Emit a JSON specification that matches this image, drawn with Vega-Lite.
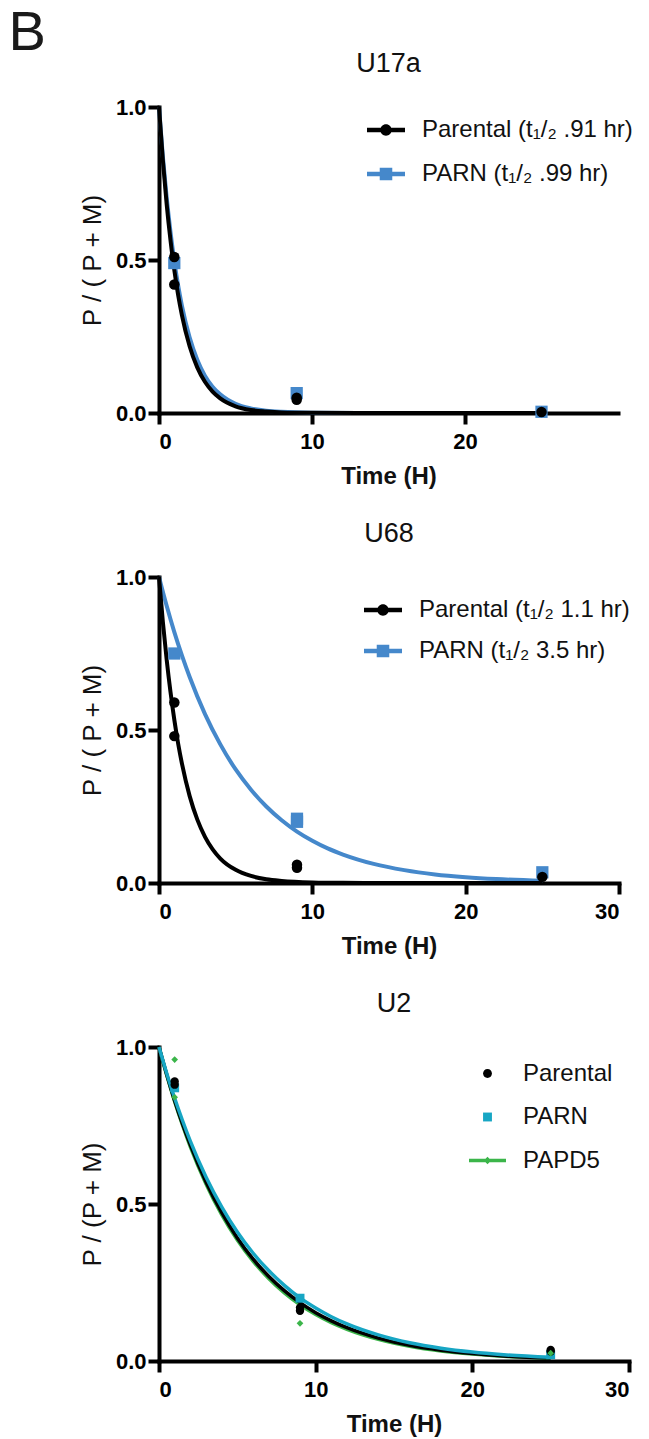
{
  "$schema": "https://vega.github.io/schema/vega-lite/v6.json",
  "padding": {"left": 8, "top": 5, "right": 5, "bottom": 5},
  "background": "white",
  "title": {"text": "B", "anchor": "start", "frame": "bounds", "fontSize": 56, "fontWeight": "normal", "font": "Liberation Sans", "color": "#1a1a1a", "offset": -12, "dx": -71},
  "spacing": 32,
  "resolve": {
    "scale": {"x": "independent", "y": "independent", "color": "independent"},
    "axis": {"x": "independent", "y": "independent"},
    "legend": {"color": "independent"}
  },
  "datasets": {
    "u17a_fit": [
      {"series": "Parental", "t": 0, "y": 1}, {"series": "Parental", "t": 0.25, "y": 0.827}, {"series": "Parental", "t": 0.5, "y": 0.683}, {"series": "Parental", "t": 0.75, "y": 0.565}, {"series": "Parental", "t": 1, "y": 0.467}, {"series": "Parental", "t": 1.25, "y": 0.386}, {"series": "Parental", "t": 1.5, "y": 0.319}, {"series": "Parental", "t": 2, "y": 0.218}, {"series": "Parental", "t": 2.5, "y": 0.149}, {"series": "Parental", "t": 3, "y": 0.102}, {"series": "Parental", "t": 3.5, "y": 0.07}, {"series": "Parental", "t": 4, "y": 0.048}, {"series": "Parental", "t": 5, "y": 0.022}, {"series": "Parental", "t": 6, "y": 0.01}, {"series": "Parental", "t": 7, "y": 0.005}, {"series": "Parental", "t": 8, "y": 0.002}, {"series": "Parental", "t": 10, "y": 0.0005}, {"series": "Parental", "t": 13, "y": 0}, {"series": "Parental", "t": 17, "y": 0}, {"series": "Parental", "t": 21, "y": 0}, {"series": "Parental", "t": 25, "y": 0},
      {"series": "PARN", "t": 0, "y": 1}, {"series": "PARN", "t": 0.25, "y": 0.839}, {"series": "PARN", "t": 0.5, "y": 0.705}, {"series": "PARN", "t": 0.75, "y": 0.592}, {"series": "PARN", "t": 1, "y": 0.497}, {"series": "PARN", "t": 1.25, "y": 0.417}, {"series": "PARN", "t": 1.5, "y": 0.35}, {"series": "PARN", "t": 2, "y": 0.247}, {"series": "PARN", "t": 2.5, "y": 0.174}, {"series": "PARN", "t": 3, "y": 0.122}, {"series": "PARN", "t": 3.5, "y": 0.086}, {"series": "PARN", "t": 4, "y": 0.061}, {"series": "PARN", "t": 5, "y": 0.03}, {"series": "PARN", "t": 6, "y": 0.015}, {"series": "PARN", "t": 7, "y": 0.0074}, {"series": "PARN", "t": 8, "y": 0.0037}, {"series": "PARN", "t": 10, "y": 0.0009}, {"series": "PARN", "t": 13, "y": 0.0001}, {"series": "PARN", "t": 17, "y": 0}, {"series": "PARN", "t": 21, "y": 0}, {"series": "PARN", "t": 25, "y": 0}
    ],
    "u17a_pts": [
      {"series": "PARN", "t": 1, "y": 0.49}, {"series": "PARN", "t": 9, "y": 0.065}, {"series": "PARN", "t": 25, "y": 0.004},
      {"series": "Parental", "t": 1, "y": 0.51}, {"series": "Parental", "t": 1, "y": 0.42}, {"series": "Parental", "t": 9, "y": 0.05}, {"series": "Parental", "t": 9, "y": 0.043}, {"series": "Parental", "t": 25, "y": 0.003}
    ],
    "u68_fit": [
      {"series": "Parental", "t": 0, "y": 1}, {"series": "Parental", "t": 0.25, "y": 0.854}, {"series": "Parental", "t": 0.5, "y": 0.73}, {"series": "Parental", "t": 0.75, "y": 0.624}, {"series": "Parental", "t": 1, "y": 0.533}, {"series": "Parental", "t": 1.25, "y": 0.455}, {"series": "Parental", "t": 1.5, "y": 0.389}, {"series": "Parental", "t": 2, "y": 0.284}, {"series": "Parental", "t": 2.5, "y": 0.207}, {"series": "Parental", "t": 3, "y": 0.151}, {"series": "Parental", "t": 3.5, "y": 0.11}, {"series": "Parental", "t": 4, "y": 0.08}, {"series": "Parental", "t": 5, "y": 0.043}, {"series": "Parental", "t": 6, "y": 0.023}, {"series": "Parental", "t": 7, "y": 0.012}, {"series": "Parental", "t": 8, "y": 0.0065}, {"series": "Parental", "t": 10, "y": 0.0018}, {"series": "Parental", "t": 12, "y": 0.0005}, {"series": "Parental", "t": 15, "y": 0.0001}, {"series": "Parental", "t": 20, "y": 0}, {"series": "Parental", "t": 25, "y": 0},
      {"series": "PARN", "t": 0, "y": 1}, {"series": "PARN", "t": 0.5, "y": 0.906}, {"series": "PARN", "t": 1, "y": 0.82}, {"series": "PARN", "t": 1.5, "y": 0.743}, {"series": "PARN", "t": 2, "y": 0.673}, {"series": "PARN", "t": 3, "y": 0.552}, {"series": "PARN", "t": 4, "y": 0.453}, {"series": "PARN", "t": 5, "y": 0.371}, {"series": "PARN", "t": 6, "y": 0.305}, {"series": "PARN", "t": 7, "y": 0.25}, {"series": "PARN", "t": 8, "y": 0.205}, {"series": "PARN", "t": 9, "y": 0.168}, {"series": "PARN", "t": 10, "y": 0.138}, {"series": "PARN", "t": 11, "y": 0.113}, {"series": "PARN", "t": 12, "y": 0.093}, {"series": "PARN", "t": 14, "y": 0.0625}, {"series": "PARN", "t": 16, "y": 0.042}, {"series": "PARN", "t": 18, "y": 0.028}, {"series": "PARN", "t": 20, "y": 0.019}, {"series": "PARN", "t": 22, "y": 0.0128}, {"series": "PARN", "t": 25, "y": 0.0071}
    ],
    "u68_pts": [
      {"series": "PARN", "t": 1, "y": 0.75}, {"series": "PARN", "t": 9, "y": 0.21}, {"series": "PARN", "t": 9, "y": 0.2}, {"series": "PARN", "t": 25, "y": 0.035},
      {"series": "Parental", "t": 1, "y": 0.59}, {"series": "Parental", "t": 1, "y": 0.48}, {"series": "Parental", "t": 9, "y": 0.06}, {"series": "Parental", "t": 9, "y": 0.05}, {"series": "Parental", "t": 25, "y": 0.02}
    ],
    "u2_fit": [
      {"series": "PAPD5", "t": 0, "y": 1}, {"series": "PAPD5", "t": 0.5, "y": 0.909}, {"series": "PAPD5", "t": 1, "y": 0.826}, {"series": "PAPD5", "t": 1.5, "y": 0.751}, {"series": "PAPD5", "t": 2, "y": 0.682}, {"series": "PAPD5", "t": 3, "y": 0.564}, {"series": "PAPD5", "t": 4, "y": 0.466}, {"series": "PAPD5", "t": 5, "y": 0.385}, {"series": "PAPD5", "t": 6, "y": 0.318}, {"series": "PAPD5", "t": 7, "y": 0.263}, {"series": "PAPD5", "t": 8, "y": 0.217}, {"series": "PAPD5", "t": 9, "y": 0.179}, {"series": "PAPD5", "t": 10, "y": 0.148}, {"series": "PAPD5", "t": 11, "y": 0.122}, {"series": "PAPD5", "t": 12, "y": 0.101}, {"series": "PAPD5", "t": 14, "y": 0.069}, {"series": "PAPD5", "t": 16, "y": 0.047}, {"series": "PAPD5", "t": 18, "y": 0.032}, {"series": "PAPD5", "t": 20, "y": 0.022}, {"series": "PAPD5", "t": 22, "y": 0.015}, {"series": "PAPD5", "t": 25, "y": 0.0084},
      {"series": "Parental", "t": 0, "y": 1}, {"series": "Parental", "t": 0.5, "y": 0.911}, {"series": "Parental", "t": 1, "y": 0.829}, {"series": "Parental", "t": 1.5, "y": 0.755}, {"series": "Parental", "t": 2, "y": 0.688}, {"series": "Parental", "t": 3, "y": 0.57}, {"series": "Parental", "t": 4, "y": 0.473}, {"series": "Parental", "t": 5, "y": 0.392}, {"series": "Parental", "t": 6, "y": 0.325}, {"series": "Parental", "t": 7, "y": 0.27}, {"series": "Parental", "t": 8, "y": 0.224}, {"series": "Parental", "t": 9, "y": 0.186}, {"series": "Parental", "t": 10, "y": 0.154}, {"series": "Parental", "t": 11, "y": 0.128}, {"series": "Parental", "t": 12, "y": 0.106}, {"series": "Parental", "t": 14, "y": 0.073}, {"series": "Parental", "t": 16, "y": 0.05}, {"series": "Parental", "t": 18, "y": 0.0345}, {"series": "Parental", "t": 20, "y": 0.0237}, {"series": "Parental", "t": 22, "y": 0.0163}, {"series": "Parental", "t": 25, "y": 0.0093},
      {"series": "PARN", "t": 0, "y": 1}, {"series": "PARN", "t": 0.5, "y": 0.915}, {"series": "PARN", "t": 1, "y": 0.837}, {"series": "PARN", "t": 1.5, "y": 0.766}, {"series": "PARN", "t": 2, "y": 0.7}, {"series": "PARN", "t": 3, "y": 0.586}, {"series": "PARN", "t": 4, "y": 0.491}, {"series": "PARN", "t": 5, "y": 0.411}, {"series": "PARN", "t": 6, "y": 0.344}, {"series": "PARN", "t": 7, "y": 0.288}, {"series": "PARN", "t": 8, "y": 0.241}, {"series": "PARN", "t": 9, "y": 0.201}, {"series": "PARN", "t": 10, "y": 0.169}, {"series": "PARN", "t": 11, "y": 0.141}, {"series": "PARN", "t": 12, "y": 0.118}, {"series": "PARN", "t": 14, "y": 0.083}, {"series": "PARN", "t": 16, "y": 0.058}, {"series": "PARN", "t": 18, "y": 0.0406}, {"series": "PARN", "t": 20, "y": 0.0284}, {"series": "PARN", "t": 22, "y": 0.0199}, {"series": "PARN", "t": 25, "y": 0.0117}
    ],
    "u2_pts": [
      {"series": "PARN", "t": 1, "y": 0.87}, {"series": "PARN", "t": 9, "y": 0.2}, {"series": "PARN", "t": 25, "y": 0.02},
      {"series": "Parental", "t": 1, "y": 0.89}, {"series": "Parental", "t": 1, "y": 0.88}, {"series": "Parental", "t": 9, "y": 0.17}, {"series": "Parental", "t": 9, "y": 0.16}, {"series": "Parental", "t": 25, "y": 0.035}, {"series": "Parental", "t": 25, "y": 0.03},
      {"series": "PAPD5", "t": 1, "y": 0.96}, {"series": "PAPD5", "t": 1, "y": 0.84}, {"series": "PAPD5", "t": 9, "y": 0.12}, {"series": "PAPD5", "t": 25, "y": 0.025}
    ]
  },
  "vconcat": [
    {
      "title": {"text": "U17a", "offset": 18},
      "width": 459,
      "height": 306,
      "layer": [
        {
          "data": {"name": "u17a_fit"},
          "transform": [{"filter": "datum.series == 'PARN'"}],
          "mark": {"type": "line", "strokeWidth": 4, "interpolate": "monotone"},
          "encoding": {
            "x": {"field": "t", "type": "quantitative", "scale": {"domain": [0, 30], "nice": false}, "axis": {"values": [0, 10, 20], "title": "Time (H)"}},
            "y": {"field": "y", "type": "quantitative", "scale": {"domain": [0, 1], "nice": false}, "axis": {"values": [0, 0.5, 1], "format": ".1f", "title": "P / ( P + M)"}},
            "color": {
              "field": "series", "type": "nominal",
              "scale": {"domain": ["Parental", "PARN"], "range": ["#000000", "#4588CB"]},
              "legend": {
                "title": null, "orient": "none", "legendX": 208, "legendY": 4, "padding": 0,
                "labelFontSize": 24, "labelFont": "Liberation Sans", "labelColor": "#111", "labelOffset": 17, "rowPadding": 13, "symbolSize": 1444, "symbolStrokeWidth": 0, "labelLimit": 400,
                "labelExpr": "datum.value == 'Parental' ? 'Parental (t₁/₂ .91 hr)' : 'PARN (t₁/₂ .99 hr)'",
                "encode": {"symbols": {"update": {
                  "shape": {"signal": "datum.value == 'Parental' ? 'M-1,-0.115H1V0.115H-1Z M0.3,0A0.3,0.3,0,1,1,-0.3,0A0.3,0.3,0,1,1,0.3,0Z' : 'M-1,-0.115H1V0.115H-1Z M-0.33,-0.33H0.33V0.33H-0.33Z'"},
                  "fill": {"signal": "datum.value == 'Parental' ? '#000000' : '#4588CB'"},
                  "stroke": {"value": "transparent"}, "strokeWidth": {"value": 0}, "opacity": {"value": 1}, "size": {"value": 1444}
                }}}
              }
            }
          }
        },
        {
          "data": {"name": "u17a_fit"},
          "transform": [{"filter": "datum.series == 'Parental'"}],
          "mark": {"type": "line", "strokeWidth": 4, "interpolate": "monotone"},
          "encoding": {
            "x": {"field": "t", "type": "quantitative"},
            "y": {"field": "y", "type": "quantitative"},
            "color": {"field": "series", "type": "nominal", "legend": null}
          }
        },
        {
          "data": {"name": "u17a_pts"},
          "transform": [{"filter": "datum.series == 'PARN'"}],
          "mark": {"type": "point", "filled": true, "opacity": 1, "shape": "square", "size": 150},
          "encoding": {
            "x": {"field": "t", "type": "quantitative"},
            "y": {"field": "y", "type": "quantitative"},
            "color": {"field": "series", "type": "nominal", "legend": null}
          }
        },
        {
          "data": {"name": "u17a_pts"},
          "transform": [{"filter": "datum.series == 'Parental'"}],
          "mark": {"type": "point", "filled": true, "opacity": 1, "shape": "circle", "size": 110},
          "encoding": {
            "x": {"field": "t", "type": "quantitative"},
            "y": {"field": "y", "type": "quantitative"},
            "color": {"field": "series", "type": "nominal", "legend": null}
          }
        }
      ]
    },
    {
      "title": {"text": "U68", "offset": 18},
      "width": 460,
      "height": 306,
      "layer": [
        {
          "data": {"name": "u68_fit"},
          "transform": [{"filter": "datum.series == 'PARN'"}],
          "mark": {"type": "line", "strokeWidth": 4, "interpolate": "monotone"},
          "encoding": {
            "x": {"field": "t", "type": "quantitative", "scale": {"domain": [0, 30], "nice": false}, "axis": {"values": [0, 10, 20, 30], "title": "Time (H)"}},
            "y": {"field": "y", "type": "quantitative", "scale": {"domain": [0, 1], "nice": false}, "axis": {"values": [0, 0.5, 1], "format": ".1f", "title": "P / ( P + M)"}},
            "color": {
              "field": "series", "type": "nominal",
              "scale": {"domain": ["Parental", "PARN"], "range": ["#000000", "#4588CB"]},
              "legend": {
                "title": null, "orient": "none", "legendX": 205, "legendY": 14, "padding": 0,
                "labelFontSize": 24, "labelFont": "Liberation Sans", "labelColor": "#111", "labelOffset": 17, "rowPadding": 10, "symbolSize": 1444, "symbolStrokeWidth": 0, "labelLimit": 400,
                "labelExpr": "datum.value == 'Parental' ? 'Parental (t₁/₂ 1.1 hr)' : 'PARN (t₁/₂ 3.5 hr)'",
                "encode": {"symbols": {"update": {
                  "shape": {"signal": "datum.value == 'Parental' ? 'M-1,-0.115H1V0.115H-1Z M0.3,0A0.3,0.3,0,1,1,-0.3,0A0.3,0.3,0,1,1,0.3,0Z' : 'M-1,-0.115H1V0.115H-1Z M-0.33,-0.33H0.33V0.33H-0.33Z'"},
                  "fill": {"signal": "datum.value == 'Parental' ? '#000000' : '#4588CB'"},
                  "stroke": {"value": "transparent"}, "strokeWidth": {"value": 0}, "opacity": {"value": 1}, "size": {"value": 1444}
                }}}
              }
            }
          }
        },
        {
          "data": {"name": "u68_fit"},
          "transform": [{"filter": "datum.series == 'Parental'"}],
          "mark": {"type": "line", "strokeWidth": 4, "interpolate": "monotone"},
          "encoding": {
            "x": {"field": "t", "type": "quantitative"},
            "y": {"field": "y", "type": "quantitative"},
            "color": {"field": "series", "type": "nominal", "legend": null}
          }
        },
        {
          "data": {"name": "u68_pts"},
          "transform": [{"filter": "datum.series == 'PARN'"}],
          "mark": {"type": "point", "filled": true, "opacity": 1, "shape": "square", "size": 150},
          "encoding": {
            "x": {"field": "t", "type": "quantitative"},
            "y": {"field": "y", "type": "quantitative"},
            "color": {"field": "series", "type": "nominal", "legend": null}
          }
        },
        {
          "data": {"name": "u68_pts"},
          "transform": [{"filter": "datum.series == 'Parental'"}],
          "mark": {"type": "point", "filled": true, "opacity": 1, "shape": "circle", "size": 110},
          "encoding": {
            "x": {"field": "t", "type": "quantitative"},
            "y": {"field": "y", "type": "quantitative"},
            "color": {"field": "series", "type": "nominal", "legend": null}
          }
        }
      ]
    },
    {
      "title": {"text": "U2", "offset": 18},
      "width": 470,
      "height": 314,
      "layer": [
        {
          "data": {"name": "u2_fit"},
          "transform": [{"filter": "datum.series == 'PAPD5'"}],
          "mark": {"type": "line", "strokeWidth": 3.5, "interpolate": "monotone"},
          "encoding": {
            "x": {"field": "t", "type": "quantitative", "scale": {"domain": [0, 30], "nice": false}, "axis": {"values": [0, 10, 20, 30], "title": "Time (H)"}},
            "y": {"field": "y", "type": "quantitative", "scale": {"domain": [0, 1], "nice": false}, "axis": {"values": [0, 0.5, 1], "format": ".1f", "title": "P / (P + M)"}},
            "color": {
              "field": "series", "type": "nominal",
              "scale": {"domain": ["Parental", "PARN", "PAPD5"], "range": ["#000000", "#17A6C4", "#3BB54A"]},
              "legend": {
                "title": null, "orient": "none", "legendX": 310, "legendY": 8, "padding": 0,
                "labelFontSize": 24, "labelFont": "Liberation Sans", "labelColor": "#111", "labelOffset": 17, "rowPadding": 12.5, "symbolSize": 1369, "symbolStrokeWidth": 0, "labelLimit": 400,
                "encode": {"symbols": {"update": {
                  "shape": {"signal": "datum.value == 'Parental' ? 'M0.24,0A0.24,0.24,0,1,1,-0.24,0A0.24,0.24,0,1,1,0.24,0Z' : datum.value == 'PARN' ? 'M-0.24,-0.24H0.24V0.24H-0.24Z' : 'M-1,-0.1H1V0.1H-1Z M0,-0.2L0.2,0L0,0.2L-0.2,0Z'"},
                  "fill": {"signal": "datum.value == 'Parental' ? '#000000' : datum.value == 'PARN' ? '#17A6C4' : '#3BB54A'"},
                  "stroke": {"value": "transparent"}, "strokeWidth": {"value": 0}, "opacity": {"value": 1}, "size": {"value": 1369}
                }}}
              }
            }
          }
        },
        {
          "data": {"name": "u2_fit"},
          "transform": [{"filter": "datum.series == 'Parental'"}],
          "mark": {"type": "line", "strokeWidth": 3.5, "interpolate": "monotone"},
          "encoding": {
            "x": {"field": "t", "type": "quantitative"},
            "y": {"field": "y", "type": "quantitative"},
            "color": {"field": "series", "type": "nominal", "legend": null}
          }
        },
        {
          "data": {"name": "u2_fit"},
          "transform": [{"filter": "datum.series == 'PARN'"}],
          "mark": {"type": "line", "strokeWidth": 3.5, "interpolate": "monotone"},
          "encoding": {
            "x": {"field": "t", "type": "quantitative"},
            "y": {"field": "y", "type": "quantitative"},
            "color": {"field": "series", "type": "nominal", "legend": null}
          }
        },
        {
          "data": {"name": "u2_pts"},
          "transform": [{"filter": "datum.series == 'PARN'"}],
          "mark": {"type": "point", "filled": true, "opacity": 1, "shape": "square", "size": 80},
          "encoding": {
            "x": {"field": "t", "type": "quantitative"},
            "y": {"field": "y", "type": "quantitative"},
            "color": {"field": "series", "type": "nominal", "legend": null}
          }
        },
        {
          "data": {"name": "u2_pts"},
          "transform": [{"filter": "datum.series == 'Parental'"}],
          "mark": {"type": "point", "filled": true, "opacity": 1, "shape": "circle", "size": 70},
          "encoding": {
            "x": {"field": "t", "type": "quantitative"},
            "y": {"field": "y", "type": "quantitative"},
            "color": {"field": "series", "type": "nominal", "legend": null}
          }
        },
        {
          "data": {"name": "u2_pts"},
          "transform": [{"filter": "datum.series == 'PAPD5'"}],
          "mark": {"type": "point", "filled": true, "opacity": 1, "shape": "diamond", "size": 45},
          "encoding": {
            "x": {"field": "t", "type": "quantitative"},
            "y": {"field": "y", "type": "quantitative"},
            "color": {"field": "series", "type": "nominal", "legend": null}
          }
        }
      ]
    }
  ],
  "config": {
    "font": "Liberation Sans",
    "view": {"stroke": null},
    "axis": {"domainColor": "#000", "domainWidth": 4, "domainCap": "square", "tickColor": "#000", "tickWidth": 4, "tickSize": 11, "labelFont": "Liberation Sans", "labelFontWeight": "bold", "labelFontSize": 22, "labelColor": "#000", "titleColor": "#111", "titleFont": "Liberation Sans", "grid": false},
    "axisX": {"titleFontWeight": "bold", "titleFontSize": 24, "labelPadding": 7, "titlePadding": 12},
    "axisY": {"titleFontWeight": "normal", "titleFontSize": 26, "labelPadding": 2, "titlePadding": 10},
    "title": {"font": "Liberation Sans", "fontWeight": "normal", "fontSize": 27, "color": "#111", "anchor": "middle"}
  }
}
